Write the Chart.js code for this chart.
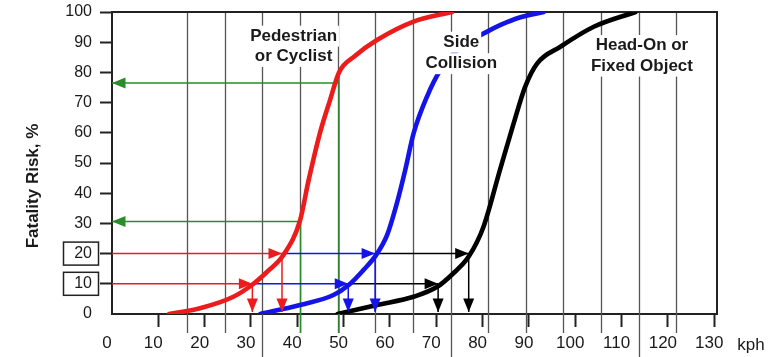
<!DOCTYPE html>
<html><head><meta charset="utf-8">
<script src="https://cdn.jsdelivr.net/npm/chart.js@4.4.1/dist/chart.umd.min.js"></script>
<style>html,body{margin:0;padding:0;background:#fff;overflow:hidden}</style>
</head><body>
<canvas id="c" width="771" height="357"></canvas>
<script>
// ---- tick labels ----
const riskTicks = [0, 10, 20, 30, 40, 50, 60, 70, 80, 90, 100];
const boxedRiskTicks = [20, 10];
const kphTicks = [0, 10, 20, 30, 40, 50, 60, 70, 80, 90, 100, 110, 120, 130];
// vertical guide lines are every 5 mph (old mph scale)
const mphGrid = [10, 15, 20, 25, 30, 35, 40, 45, 50, 55, 60, 65, 70, 75];
const mphLongGrid = [20, 45, 70];

// ---- curves (speed kph, fatality risk %) ----
const pedKph  = [12.3, 19, 26.2, 30.2, 33.5, 37, 40.6, 42.4, 44.9, 47.1, 49, 52.5, 57.2, 65.1, 73.4];
const pedRisk = [0, 1.9, 5.7, 9.6, 14, 19.5, 31, 44, 60, 71, 80, 85.5, 90.7, 96.8, 100];
const sideKph  = [32, 40.6, 47.8, 51.1, 54.3, 57, 59.4, 61.5, 63.3, 65.1, 68, 70.9, 75, 81, 84, 88, 93.2];
const sideRisk = [0, 3, 6.3, 9.6, 14.6, 19.5, 26.2, 36.7, 47.7, 59.8, 72, 80.8, 88, 93.5, 95.8, 98.2, 100];
const headKph  = [48.7, 57.2, 65.1, 70.2, 73.7, 77, 80.2, 83.8, 86.7, 89.2, 91.8, 96.8, 104, 113];
const headRisk = [0, 3, 5.7, 9, 13.5, 19, 28.9, 48, 63.1, 75.3, 83, 88.5, 95.1, 100];

// ---- read-off arrows ----
const riskLevels = [20, 10];
const pedAtLevel  = [36.7, 30.3];
const sideAtLevel = [56.8, 51.0];
const headAtLevel = [77.0, 70.4];
const speedMarks  = [49.0, 40.7];   // green: speeds read upward
const curveAtMark = [80, 30.6];     // where the green vertical meets the red curve
const riskReadOut = [76.5, 30.6];   // risk read on the axis
const belowAxis = -6.3;

const pts = (xs, ys) => xs.map((x, i) => ({x, y: ys[i]}));

const RED = '#ec1c1c', BLUE = '#1414e8', BLACK = '#000000', GREEN = '#2a8c2a';
const datasets = [];
function curve(xs, ys, color) {
  datasets.push({data: pts(xs, ys), borderColor: color, borderWidth: 4.6, pointRadius: 0,
    cubicInterpolationMode: 'monotone', fill: false, borderCapStyle: 'round'});
}
function seg(data, color, arrow, clip) {
  datasets.push({data, borderColor: color, borderWidth: 1.5, pointRadius: 0, tension: 0,
    fill: false, arrowHead: arrow, clip: clip === false ? false : undefined});
}
curve(pedKph, pedRisk, RED);
curve(sideKph, sideRisk, BLUE);
curve(headKph, headRisk, BLACK);
riskLevels.forEach((lv, i) => {
  seg([{x: 0, y: lv}, {x: pedAtLevel[i], y: lv}], RED, true);
  seg([{x: pedAtLevel[i], y: lv}, {x: sideAtLevel[i], y: lv}], BLUE, true);
  seg([{x: sideAtLevel[i], y: lv}, {x: headAtLevel[i], y: lv}], BLACK, true);
  seg([{x: pedAtLevel[i], y: lv}, {x: pedAtLevel[i], y: 0.7}], RED, true);
  seg([{x: sideAtLevel[i], y: lv}, {x: sideAtLevel[i], y: 0.7}], BLUE, true);
  seg([{x: headAtLevel[i], y: lv}, {x: headAtLevel[i], y: 0.7}], BLACK, true);
});
speedMarks.forEach((s, i) => {
  seg([{x: s, y: riskReadOut[i]}, {x: 0, y: riskReadOut[i]}], GREEN, true);
  seg([{x: s, y: curveAtMark[i]}, {x: s, y: belowAxis}], GREEN, false, false);
});

const TXT = '#1a1a1a';
const FONT = '"Liberation Sans", Arial, sans-serif';

const decor = {
  id: 'decor',
  beforeDatasetsDraw(chart) {
    const {ctx, chartArea: a} = chart;
    const m = chart.scales.mph;
    ctx.save();
    ctx.strokeStyle = '#555';
    ctx.lineWidth = 1.3;
    mphGrid.forEach(v => {
      const x = Math.round(m.getPixelForValue(v)) + 0.5;
      ctx.beginPath();
      ctx.moveTo(x, a.top);
      ctx.lineTo(x, mphLongGrid.includes(v) ? chart.height : a.bottom + 19);
      ctx.stroke();
    });
    ctx.strokeStyle = '#222';
    ctx.lineWidth = 2;
    ctx.beginPath();
    ctx.moveTo(a.left, a.top); ctx.lineTo(a.right, a.top); ctx.lineTo(a.right, a.bottom);
    ctx.stroke();
    ctx.restore();
  },
  afterDatasetsDraw(chart) {
    const {ctx} = chart;
    ctx.save();
    // arrowheads
    chart.data.datasets.forEach((ds, i) => {
      if (!ds.arrowHead) return;
      const p = chart.getDatasetMeta(i).data;
      const p1 = p[p.length - 2], p2 = p[p.length - 1];
      const ang = Math.atan2(p2.y - p1.y, p2.x - p1.x);
      const L = 13.5, W = 5.5;
      const bx = p2.x - L * Math.cos(ang), by = p2.y - L * Math.sin(ang);
      ctx.fillStyle = ds.borderColor;
      ctx.beginPath();
      ctx.moveTo(p2.x, p2.y);
      ctx.lineTo(bx + W * Math.sin(ang), by - W * Math.cos(ang));
      ctx.lineTo(bx - W * Math.sin(ang), by + W * Math.cos(ang));
      ctx.closePath();
      ctx.fill();
    });
    // curve labels
    const xs = chart.scales.x, ys = chart.scales.y;
    const labels = [
      {lines: ['Pedestrian', 'or Cyclist'], x: 39.2, y: [90.5, 83.8]},
      {lines: ['Side', 'Collision'], x: 75.4, y: [88.5, 81.4]},
      {lines: ['Head-On or', 'Fixed Object'], x: 114.4, y: [87.4, 80.6]}
    ];
    ctx.font = 'bold 17px ' + FONT;
    ctx.textAlign = 'center';
    ctx.textBaseline = 'alphabetic';
    labels.forEach(l => {
      const cx = xs.getPixelForValue(l.x);
      l.lines.forEach((t, k) => {
        const by = ys.getPixelForValue(l.y[k]);
        const w = ctx.measureText(t).width;
        ctx.fillStyle = '#fff';
        ctx.fillRect(cx - w / 2 - 2, by - 15, w + 4, 21);
      });
      l.lines.forEach((t, k) => {
        ctx.fillStyle = TXT;
        ctx.fillText(t, cx, ys.getPixelForValue(l.y[k]));
      });
    });
    ctx.restore();
  },
  afterDraw(chart) {
    const {ctx} = chart;
    const ys = chart.scales.y;
    ctx.save();
    // boxed tick labels
    ctx.strokeStyle = '#222';
    ctx.lineWidth = 1.5;
    boxedRiskTicks.forEach(v => {
      const y = ys.getPixelForValue(v);
      ctx.strokeRect(63.5, y - 11.5, 35, 23);
    });
    // axis titles
    ctx.fillStyle = TXT;
    ctx.font = 'bold 17px ' + FONT;
    ctx.textAlign = 'center';
    ctx.textBaseline = 'middle';
    ctx.translate(33, 186);
    ctx.rotate(-Math.PI / 2);
    ctx.fillText('Fatality Risk, %', 0, 0);
    ctx.setTransform(1, 0, 0, 1, 0, 0);
    ctx.font = '17px ' + FONT;
    ctx.textBaseline = 'alphabetic';
    ctx.fillText('kph', 751, 350);
    ctx.restore();
  }
};

new Chart(document.getElementById('c'), {
  type: 'line',
  data: {datasets},
  plugins: [decor],
  options: {
    responsive: false,
    animation: false,
    devicePixelRatio: 1,
    parsing: true,
    layout: {padding: {left: 0, top: 12, right: 54, bottom: 0}},
    plugins: {legend: {display: false}, tooltip: {enabled: false}},
    scales: {
      x: {
        type: 'linear', position: 'bottom', min: 0, max: 130.6,
        afterBuildTicks: s => { s.ticks = kphTicks.map(v => ({value: v})); },
        ticks: {font: {family: FONT, size: 17}, color: TXT, padding: 6, labelOffset: -5,
          autoSkip: false, maxRotation: 0, includeBounds: false},
        grid: {drawOnChartArea: false, tickLength: 13, tickWidth: 2,
          tickColor: c => (c.tick && c.tick.value === 0) ? 'rgba(0,0,0,0)' : '#222'},
        border: {color: '#222', width: 2},
        afterFit: s => { s.height = 43; s.paddingLeft = 0; s.paddingRight = 0; }
      },
      mph: {type: 'linear', position: 'bottom', min: 0, max: 80.42, display: false},
      y: {
        type: 'linear', position: 'left', min: 0, max: 100,
        afterBuildTicks: s => { s.ticks = riskTicks.map(v => ({value: v})); },
        ticks: {font: {family: FONT, size: 16}, color: TXT, padding: 8},
        grid: {drawOnChartArea: false, tickLength: 12, tickWidth: 2,
          tickColor: c => (c.tick && c.tick.value === 0) ? 'rgba(0,0,0,0)' : '#222'},
        border: {color: '#222', width: 2},
        afterFit: s => { s.width = 112; s.paddingTop = 0; s.paddingBottom = 0; }
      }
    }
  }
});
</script>
</body></html>
